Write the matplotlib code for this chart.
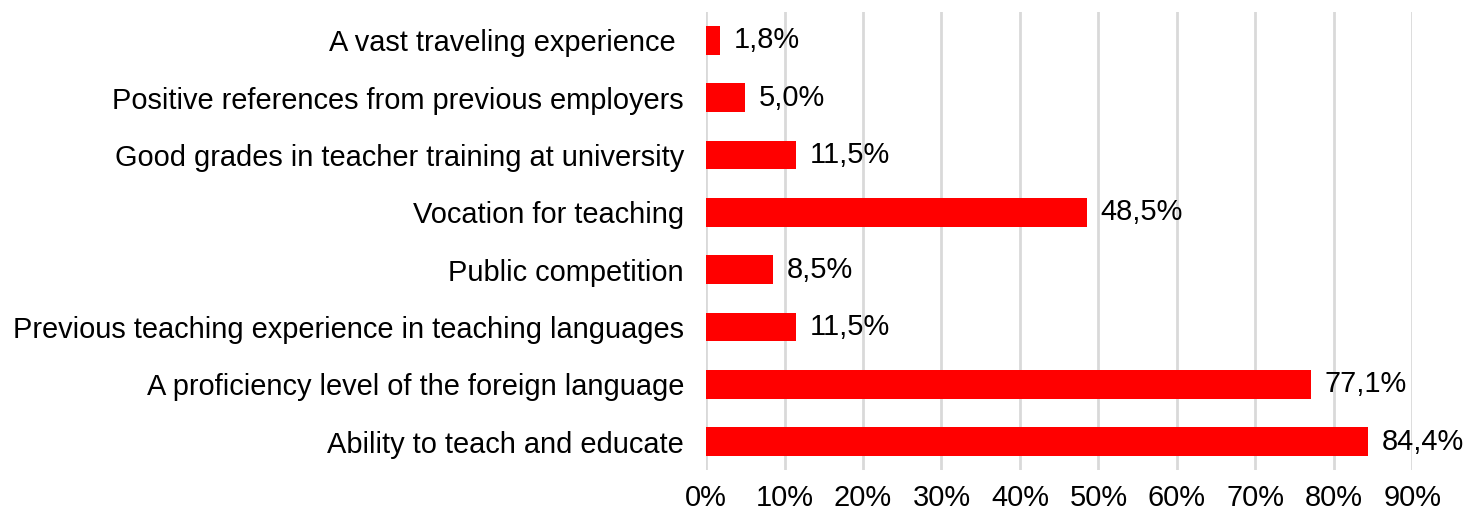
import matplotlib
matplotlib.use("Agg")
import matplotlib.pyplot as plt
from matplotlib.ticker import FuncFormatter

categories = [
    "A vast traveling experience ",
    "Positive references from previous employers",
    "Good grades in teacher training at university",
    "Vocation for teaching",
    "Public competition",
    "Previous teaching experience in teaching languages",
    "A proficiency level of the foreign language",
    "Ability to teach and educate",
]
values = [1.8, 5.0, 11.5, 48.5, 8.5, 11.5, 77.1, 84.4]
xticks = [0, 10, 20, 30, 40, 50, 60, 70, 80, 90]

plt.rcParams['font.family'] = ['Liberation Sans', 'DejaVu Sans']
FS = 20.9

fig = plt.figure(figsize=(14.68, 5.15), dpi=100)
ax = fig.add_axes([0.481, 0.087, 0.481, 0.890])

y = list(range(len(categories)))
ax.barh(y, values, height=0.5, color='#ff0000', zorder=3)
ax.set_ylim(len(categories) - 0.5, -0.5)
ax.set_xlim(0, 90)
ax.set_yticks(y)
ax.set_yticklabels(categories, fontsize=FS, color='#000000')
ax.set_xticks(xticks)
ax.xaxis.set_major_formatter(FuncFormatter(lambda v, p: f"{int(v)}%"))
ax.tick_params(axis='x', labelsize=FS, length=0, pad=10)
ax.tick_params(axis='y', length=0, pad=16)
for s in ax.spines.values():
    s.set_visible(False)
ax.grid(axis='x', color='#d9d9d9', linewidth=2, zorder=0)
ax.set_axisbelow(True)

for yi, v in zip(y, values):
    ax.annotate(f"{v:.1f}%".replace('.', ','), (v, yi), xytext=(10, 0),
                textcoords='offset points', va='center', ha='left', fontsize=FS)

fig.savefig("out.png", dpi=100)
